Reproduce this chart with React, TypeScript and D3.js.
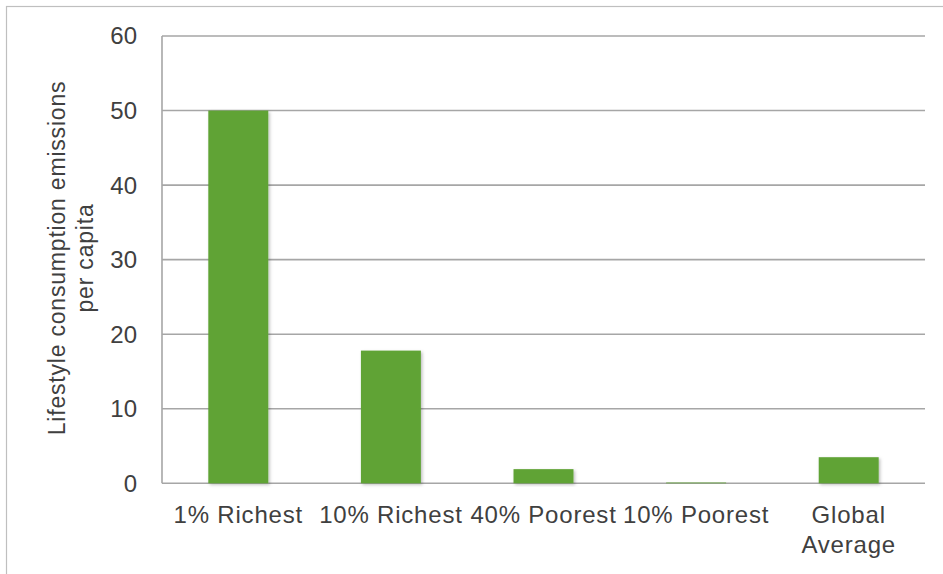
import React, { useEffect, useRef } from "react";
import * as d3 from "d3";

const categories: string[] = ["1% Richest", "10% Richest", "40% Poorest", "10% Poorest", "Global Average"];
const values: number[] = [50, 17.8, 1.9, 0.1, 3.5];
const yTicks: number[] = [0, 10, 20, 30, 40, 50, 60];
const yTitleLines: string[] = ["Lifestyle consumption emissions", "per capita"];

const W = 943;
const H = 574;
const M = { left: 162, right: 925, top: 36, bottom: 483.3 };
const FONT = "'Liberation Sans', Arial, sans-serif";
const TEXT = "#404040";
const GRID = "#a6a6a6";
const BAR = "#60a336";

export default function App() {
  const ref = useRef<SVGSVGElement | null>(null);

  useEffect(() => {
    const svg = d3.select(ref.current);
    svg.selectAll("*").remove();

    const defs = svg.append("defs");
    const f = defs.append("filter").attr("id", "shadow").attr("x", "-20%").attr("y", "-20%").attr("width", "140%").attr("height", "140%");
    f.append("feDropShadow").attr("dx", 1.5).attr("dy", 1.5).attr("stdDeviation", 1.5).attr("flood-color", "#000").attr("flood-opacity", 0.25);

    // outer border
    svg.append("rect").attr("x", 6.5).attr("y", 6.5).attr("width", W + 20).attr("height", H + 20)
      .attr("fill", "none").attr("stroke", "#bfbfbf").attr("stroke-width", 1.2);

    const x = d3.scaleBand<string>().domain(categories).range([M.left, M.right]).paddingInner(0.607).paddingOuter(0.3035);
    const y = d3.scaleLinear().domain([0, 60]).range([M.bottom, M.top]);

    // gridlines
    svg.append("g").selectAll("line").data(yTicks).join("line")
      .attr("x1", M.left).attr("x2", M.right)
      .attr("y1", (d) => y(d)).attr("y2", (d) => y(d))
      .attr("stroke", GRID).attr("stroke-width", 1.6);

    // left axis line
    svg.append("line").attr("x1", M.left).attr("x2", M.left).attr("y1", M.top).attr("y2", M.bottom)
      .attr("stroke", GRID).attr("stroke-width", 1.6);

    // bars
    svg.append("g").selectAll("rect").data(categories).join("rect")
      .attr("x", (d) => x(d)!)
      .attr("width", x.bandwidth())
      .attr("y", (_d, i) => y(values[i]))
      .attr("height", (_d, i) => y(0) - y(values[i]))
      .attr("fill", BAR)
      .attr("filter", "url(#shadow)");

    // y tick labels
    svg.append("g").selectAll("text").data(yTicks).join("text")
      .attr("x", 137).attr("y", (d) => y(d))
      .attr("dy", "0.35em")
      .attr("text-anchor", "end")
      .attr("font-family", FONT).attr("font-size", 24).attr("fill", TEXT)
      .text((d) => String(d));

    // x labels with wrapping
    const step = x.step();
    const xl = svg.append("g");
    categories.forEach((c) => {
      const cx = x(c)! + x.bandwidth() / 2;
      const t = xl.append("text")
        .attr("x", cx).attr("y", 523)
        .attr("text-anchor", "middle")
        .attr("font-family", FONT).attr("font-size", 24).attr("fill", TEXT)
        .attr("letter-spacing", 0.8);
      const words = c.split(" ");
      let lines: string[] = [];
      let cur: string[] = [];
      const probe = t.append("tspan");
      words.forEach((w) => {
        const test = [...cur, w].join(" ");
        probe.text(test);
        const len = (probe.node() as SVGTextContentElement).getComputedTextLength();
        if (len > step && cur.length > 0) {
          lines.push(cur.join(" "));
          cur = [w];
        } else {
          cur.push(w);
        }
      });
      if (cur.length) lines.push(cur.join(" "));
      probe.remove();
      lines.forEach((ln, i) => {
        t.append("tspan").attr("x", cx).attr("y", 523 + i * 30).text(ln);
      });
    });

    // y axis title
    const tg = svg.append("g").attr("transform", "translate(0,258) rotate(-90)");
    yTitleLines.forEach((ln, i) => {
      tg.append("text")
        .attr("x", 0).attr("y", 65 + i * 28)
        .attr("text-anchor", "middle")
        .attr("font-family", FONT).attr("font-size", 23).attr("fill", TEXT)
        .attr("letter-spacing", 0.8)
        .text(ln);
    });
  }, []);

  return (
    <svg ref={ref} width={W} height={H} style={{ position: "absolute", left: 0, top: 0, background: "#fff" }} />
  );
}
